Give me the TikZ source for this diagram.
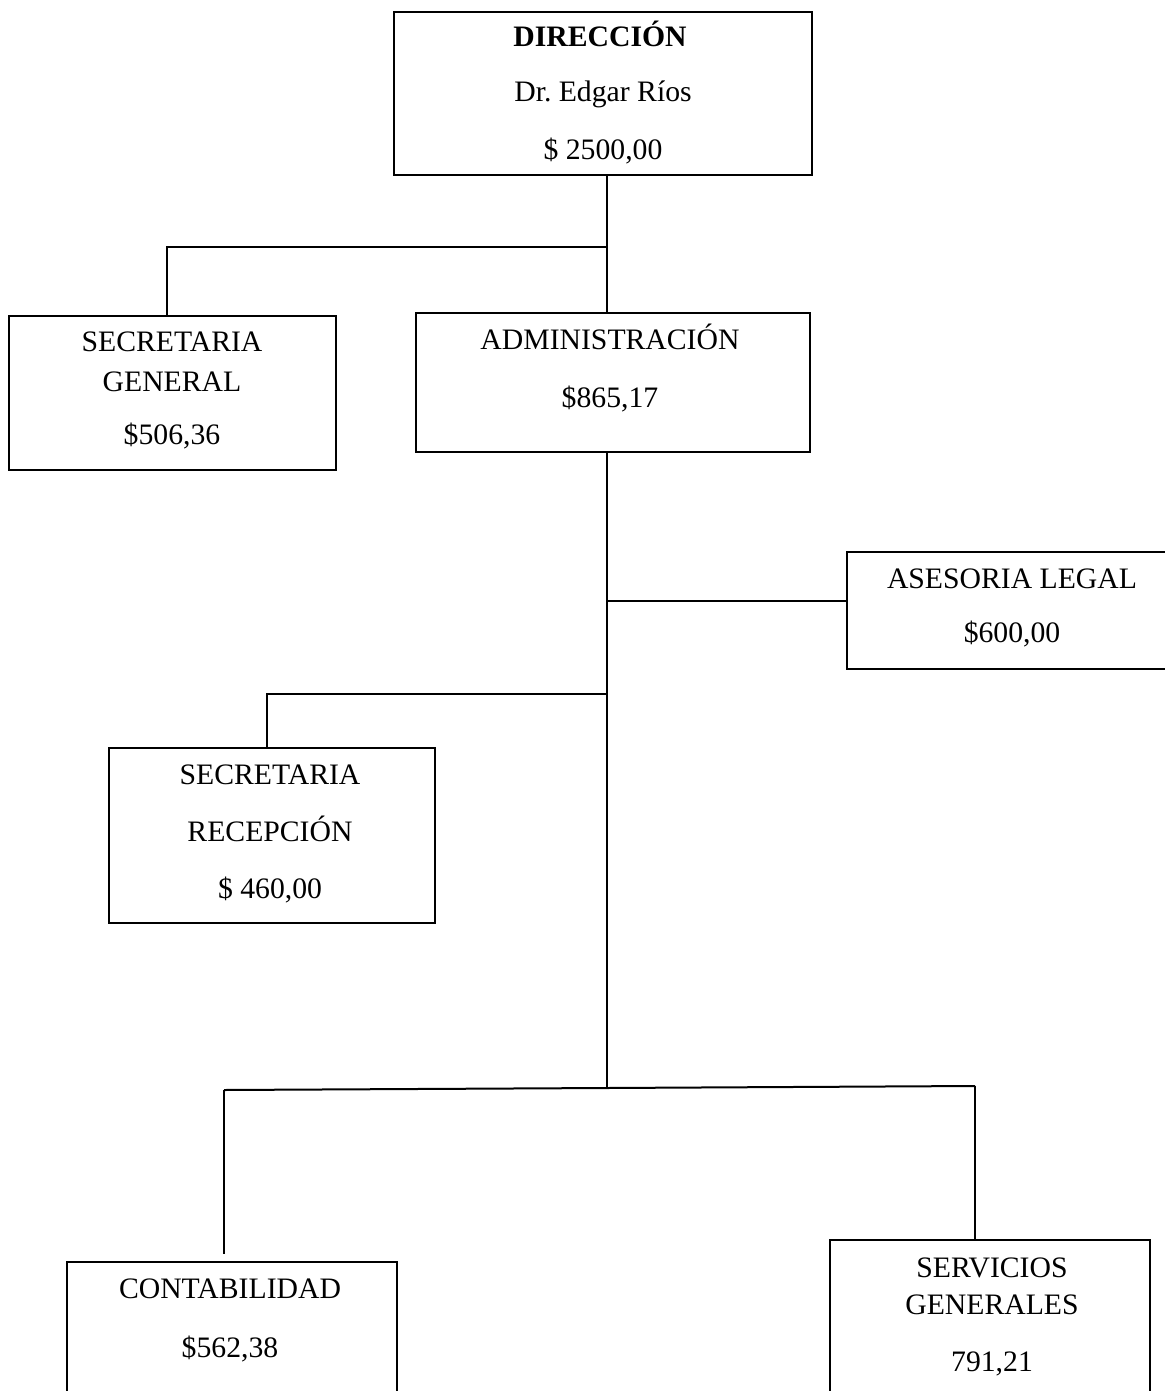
\documentclass[tikz,border=0pt]{standalone}
\usepackage{fontspec}
\setmainfont{Liberation Serif}
\frenchspacing
\begin{document}
\begin{tikzpicture}[x=0.5pt,y=-0.5pt,
  box/.style={draw, line width=1.25pt, rectangle, inner sep=0pt},
  conn/.style={line width=1pt},
  thinconn/.style={line width=0.75pt},
  lbl/.style={font=\fontsize{14.85}{17}\selectfont, inner sep=0pt, anchor=base}
]
\useasboundingbox (0,0) rectangle (1165,1391);
\clip (0,0) rectangle (1165,1391);

% boxes
\node[box, minimum width=209pt, minimum height=81.5pt] (dir) at (603,93.5) {};
\node[box, minimum width=163.5pt, minimum height=77pt] (sg) at (172.5,393) {};
\node[box, minimum width=197pt, minimum height=69.5pt] (adm) at (613,382.5) {};
\node[box, minimum width=176.5pt, minimum height=58.5pt] (ase) at (1023.5,610.5) {};
\node[box, minimum width=163pt, minimum height=87.5pt] (rec) at (272,835.5) {};
\node[box, minimum width=165pt, minimum height=84pt] (cont) at (232,1346) {};
\node[box, minimum width=160pt, minimum height=95pt] (serv) at (990,1335) {};

% texts
\node[lbl, font=\fontsize{14.85}{17}\selectfont\bfseries] (t1) at (600,47) {DIRECCIÓN};
\node[lbl] (t2) at (603,102) {Dr. Edgar Ríos};
\node[lbl] (t3) at (603,160) {\$ 2500,00};

\node[lbl] (t4) at (172,351) {SECRETARIA};
\node[lbl] (t5) at (172,391) {GENERAL};
\node[lbl] (t6) at (172,444) {\$506,36};

\node[lbl] (t7) at (610,349) {ADMINISTRACIÓN};
\node[lbl] (t8) at (610,407) {\$865,17};

\node[lbl] (t9) at (1012,588) {ASESORIA LEGAL};
\node[lbl] (t10) at (1012,642) {\$600,00};

\node[lbl] (t11) at (270,784) {SECRETARIA};
\node[lbl] (t12) at (270,841) {RECEPCIÓN};
\node[lbl] (t13) at (270,898) {\$ 460,00};

\node[lbl] (t14) at (230,1298) {CONTABILIDAD};
\node[lbl] (t15) at (230,1357) {\$562,38};

\node[lbl] (t16) at (992,1277) {SERVICIOS};
\node[lbl] (t17) at (992,1314) {GENERALES};
\node[lbl] (t18) at (992,1371) {791,21};

% junctions
\coordinate (j1) at (607,247);
\coordinate (j1l) at (167,247);
\coordinate (j2) at (607,601);
\coordinate (j3) at (607,694);
\coordinate (j3l) at (267,694);
\coordinate (j4) at (607,1088);
\coordinate (j4l) at (224,1090);
\coordinate (j4r) at (975,1086);

% connectors
\draw[conn] (dir.south -| j1) -- (j1) -- (j1 |- adm.north);
\draw[conn] (j1) -- (j1l) -- (j1l |- sg.north);
\draw[conn] (adm.south -| j1) -- (j4);
\draw[conn] (j2) -- (j2 -| ase.west);
\draw[conn] (j3) -- (j3l) -- (j3l |- rec.north);
\draw[conn] (j4l) -- (j4) -- (j4r);
\draw[thinconn, shorten >=3.5pt] (j4l) -- (j4l |- cont.north);
\draw[thinconn] (j4r) -- (j4r |- serv.north);
\end{tikzpicture}
\end{document}
